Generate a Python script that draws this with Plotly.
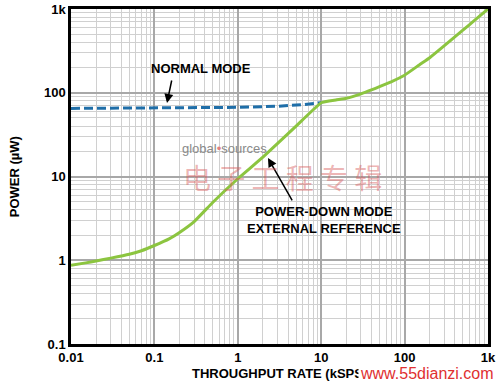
import plotly.graph_objects as go

# ---- data ----
pd_rate = [0.01, 0.015, 0.02, 0.03, 0.05, 0.07, 0.1, 0.15, 0.2, 0.3, 0.5, 1, 2, 5, 10,
           15, 20, 30, 40, 50, 70, 100, 150, 200, 300, 500, 700, 1000]
pd_power = [0.87, 0.93, 0.98, 1.06, 1.18, 1.3, 1.5, 1.8, 2.15, 2.9, 4.9, 9.4, 17, 40, 76,
            82, 86, 97, 108, 118, 136, 162, 215, 262, 365, 560, 740, 1000]

nm_rate = [0.01, 0.1, 1, 3, 6, 10]
nm_power = [65, 65.5, 67, 69, 72, 76]

x_tickvals = [0.01, 0.1, 1, 10, 100, 1000]
x_ticktext = ["0.01", "0.1", "1", "10", "100", "1k"]
y_tickvals = [0.1, 1, 10, 100, 1000]
y_ticktext = ["0.1", "1", "10", "100", "1k"]

FONT = "Liberation Sans, Arial, sans-serif"

fig = go.Figure()
fig.add_trace(go.Scatter(x=nm_rate, y=nm_power, mode="lines",
                         line=dict(color="#1f6ea8", width=3, dash="9px,4px"),
                         showlegend=False))
fig.add_trace(go.Scatter(x=pd_rate, y=pd_power, mode="lines",
                         line=dict(color="#8cc540", width=3, shape="spline", smoothing=0.3),
                         showlegend=False))

axis_common = dict(
    type="log", showline=True, linecolor="black", linewidth=2.5, mirror=True,
    showgrid=True, gridcolor="#a8a8a8", gridwidth=1.5,
    ticks="", zeroline=False, automargin=False,
    tickfont=dict(family=FONT, size=13, color="black", weight="bold"),
    minor=dict(showgrid=True, gridcolor="#d0d0d0", gridwidth=1, dtick="D1", ticks=""),
)
fig.update_xaxes(range=[-2, 3], tickvals=x_tickvals, ticktext=x_ticktext, **axis_common)
fig.update_yaxes(range=[-1, 3], tickvals=y_tickvals, ticktext=y_ticktext, **axis_common)

ann_font = dict(family=FONT, size=13, color="black", weight="bold")
annotations = [
    # axis titles
    dict(text="THROUGHPUT RATE (kSPS)", xref="paper", yref="paper", x=0.5, y=-0.087,
         xanchor="center", yanchor="middle", showarrow=False, font=ann_font),
    dict(text="POWER (µW)", xref="paper", yref="paper", x=-0.135, y=0.5,
         xanchor="center", yanchor="middle", textangle=-90, showarrow=False, font=ann_font),
    # curve labels
    dict(text="NORMAL MODE", x=-0.441, y=2.284, xref="x", yref="y", showarrow=False,
         font=ann_font),
    dict(text="", x=-0.849, y=1.878, ax=-0.789, ay=2.164, xref="x", yref="y",
         axref="x", ayref="y", showarrow=True, arrowhead=2, arrowsize=1.2,
         arrowwidth=1.5, arrowcolor="black"),
    dict(text="POWER-DOWN MODE<br>EXTERNAL REFERENCE", x=1.034, y=0.481, xref="x", yref="y",
         showarrow=False, font=ann_font, align="center"),
    dict(text="", x=0.362, y=1.221, ax=0.662, ay=0.696, xref="x", yref="y",
         axref="x", ayref="y", showarrow=True, arrowhead=2, arrowsize=1.2,
         arrowwidth=1.5, arrowcolor="black"),
    # watermarks
    dict(text="global<span style='color:#e08080'>•</span>sources", x=-0.165, y=1.34,
         xref="x", yref="y", showarrow=False,
         font=dict(family=FONT, size=13, color="#8a8a8a")),
    dict(text="电 子 工 程 专 辑", x=0.53, y=1.0, xref="x", yref="y", showarrow=False,
         font=dict(family="Noto Sans CJK SC", size=28, color="rgba(215,90,90,0.45)")),
    dict(text="www.55dianzi.com", xref="paper", yref="paper", x=1.02, y=-0.087,
         xanchor="right", yanchor="middle", showarrow=False, bgcolor="white",
         font=dict(family=FONT, size=16, color="#e03030")),
]

fig.update_layout(
    width=500, height=389,
    margin=dict(l=71, r=12, t=9, b=45),
    plot_bgcolor="white", paper_bgcolor="white",
    annotations=annotations,
    showlegend=False,
)

fig.write_html("out.html",
               config={"displayModeBar": False},
               post_script="document.body.style.margin='0';document.body.style.overflow='hidden';")
